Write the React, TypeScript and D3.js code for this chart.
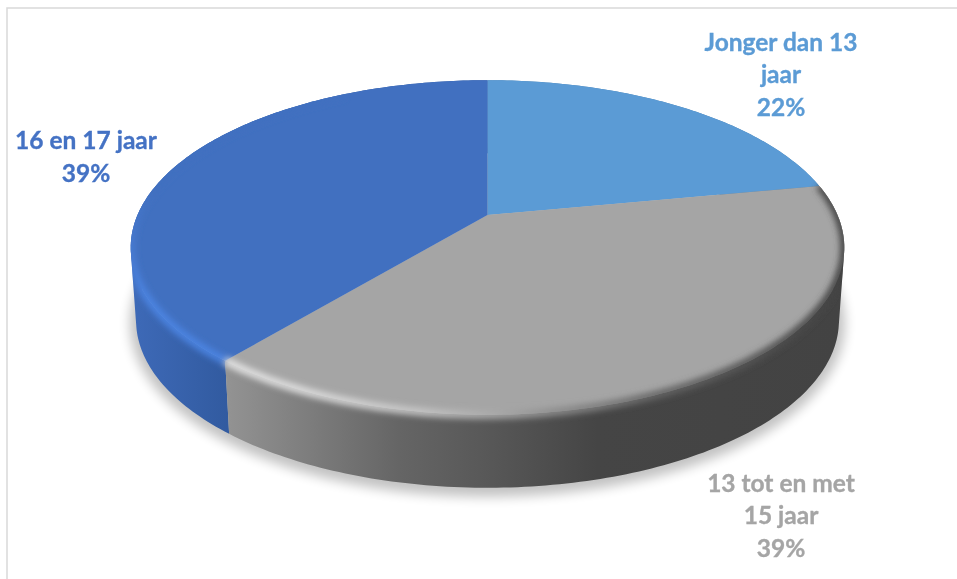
import React from "react";
import * as d3 from "d3";

const categories = ["Jonger dan 13 jaar", "13 tot en met 15 jaar", "16 en 17 jaar"];
const shares = [22, 39, 39];
const topColors = ["#5b9bd5", "#a5a5a5", "#4170c0"];
const labelColors = ["#5b9bd5", "#a5a5a5", "#4472c4"];
const labelLines = [
  ["Jonger dan 13", "jaar", "22%"],
  ["13 tot en met", "15 jaar", "39%"],
  ["16 en 17 jaar", "39%"],
];
const labelAnchors = [
  [781, 50.5],
  [781, 491.5],
  [86, 149],
];

const W = 957;
const H = 579;
const cx = 487.5;
const apexY = 215;
const radius = 350;
const tilt = 161;
const persp = 0.194;
const depth = 73;
const shrink = 0.985;

function project(a: number, level: number): [number, number] {
  const u = Math.sin(a);
  const v = -Math.cos(a);
  const d = 1 - persp * v;
  const s = 1 - (1 - shrink) * level;
  return [cx + (radius * u * s) / d, apexY + (tilt * v) / d + depth * level];
}

const arcAngles = (a0: number, a1: number) => {
  const n = Math.max(2, Math.ceil(Math.abs(a1 - a0) * 60));
  return d3.range(n + 1).map((i) => a0 + ((a1 - a0) * i) / n);
};
const line = d3.line();
const apex: [number, number] = [cx, apexY];

const slices = d3
  .pie<number>()
  .sort(null)
  .startAngle(0)
  .endAngle(2 * Math.PI)(shares);

const topPath = (s: { startAngle: number; endAngle: number }) =>
  line([apex, ...arcAngles(s.startAngle, s.endAngle).map((a) => project(a, 0))]) + "Z";

// The wall is a union of same-handed quads, so the part past the silhouette tangent stays filled.
const wallPath = (s: { startAngle: number; endAngle: number }) => {
  const as = arcAngles(s.startAngle, s.endAngle);
  return d3
    .pairs(as)
    .map(([a0, a1]) => {
      const quad = [project(a0, 0), project(a1, 0), project(a1, 1), project(a0, 1)] as [number, number][];
      const ordered = d3.polygonArea(quad) < 0 ? quad.slice().reverse() : quad;
      return line(ordered) + "Z";
    })
    .join("");
};
const edgePath = (a0: number, a1: number) => line(arcAngles(a0, a1).map((a) => project(a, 0))) || "";
const wholeBottom = line(arcAngles(0, 2 * Math.PI).map((a) => project(a, 1))) + "Z";

const grayStart = slices[1].startAngle;
const grayEnd = slices[1].endAngle;
const blueStart = slices[2].startAngle;
const blueEnd = slices[2].endAngle;

export default function App() {
  return (
    <svg
      width={W}
      height={H}
      viewBox={`0 0 ${W} ${H}`}
      style={{ position: "absolute", left: 0, top: 0, background: "#fff" }}
    >
      <defs>
        <filter id="shadow" x="-10%" y="-20%" width="120%" height="140%">
          <feGaussianBlur stdDeviation="6" />
        </filter>
        <filter id="rim" x="-10%" y="-20%" width="120%" height="140%">
          <feGaussianBlur stdDeviation="3" />
        </filter>
        <filter id="soft" x="-5%" y="-20%" width="110%" height="140%">
          <feGaussianBlur stdDeviation="0.4" />
        </filter>
        <linearGradient id="wallGray" gradientUnits="userSpaceOnUse" x1="226" x2="845" y1="0" y2="0">
          <stop offset="0" stopColor="#939393" />
          <stop offset="0.2" stopColor="#727272" />
          <stop offset="0.28" stopColor="#656565" />
          <stop offset="0.42" stopColor="#585858" />
          <stop offset="0.6" stopColor="#454545" />
          <stop offset="1" stopColor="#434343" />
        </linearGradient>
        <linearGradient id="wallBlue" gradientUnits="userSpaceOnUse" x1="130" x2="232" y1="0" y2="0">
          <stop offset="0" stopColor="#3e6ab8" />
          <stop offset="1" stopColor="#315a9f" />
        </linearGradient>
        <linearGradient id="rimGray" gradientUnits="userSpaceOnUse" x1="226" x2="845" y1="0" y2="0">
          <stop offset="0" stopColor="#e2e2e2" />
          <stop offset="0.12" stopColor="#dddddd" />
          <stop offset="0.31" stopColor="#c6c6c6" />
          <stop offset="0.44" stopColor="#a8a8a8" />
          <stop offset="0.54" stopColor="#8a8a8a" />
          <stop offset="0.69" stopColor="#666666" />
          <stop offset="1" stopColor="#424242" />
        </linearGradient>
        <linearGradient id="rimBlue" gradientUnits="userSpaceOnUse" x1="0" x2="0" y1="190" y2="300">
          <stop offset="0" stopColor="#4170c0" />
          <stop offset="1" stopColor="#4c84e2" />
        </linearGradient>
        <clipPath id="body">
          {slices.map((s, i) => (
            <path key={i} d={topPath(s)} />
          ))}
          {slices.map((s, i) => (
            <path key={i} d={wallPath(s)} />
          ))}
        </clipPath>
      </defs>

      <path d={`M7 579V8H${W}`} fill="none" stroke="#d9d9d9" strokeWidth={1.5} />

      <path
        d={wholeBottom}
        fill="#000"
        stroke="#000"
        strokeWidth={12}
        opacity={0.24}
        filter="url(#shadow)"
        transform="translate(0,3)"
      />

      <path d={wallPath(slices[0])} fill="#4a80b0" />
      <path d={wallPath(slices[2])} fill="url(#wallBlue)" />
      <path d={wallPath(slices[1])} fill="url(#wallGray)" />

      {slices.map((s, i) => (
        <path key={categories[i]} d={topPath(s)} fill={topColors[i]} />
      ))}

      <g clipPath="url(#body)">
        <path
          d={edgePath(blueStart, blueEnd - 0.5)}
          fill="none"
          stroke="url(#rimBlue)"
          strokeWidth={8}
          filter="url(#rim)"
        />
        <path
          d={edgePath(grayStart, grayEnd)}
          fill="none"
          stroke="url(#rimGray)"
          strokeWidth={8}
          filter="url(#rim)"
        />
      </g>

      {labelLines.map((lines, i) => (
        <text
          key={i}
          x={labelAnchors[i][0]}
          y={labelAnchors[i][1]}
          fill={labelColors[i]}
          stroke={labelColors[i]}
          strokeWidth={0.35}
          filter="url(#soft)"
          textAnchor="middle"
          fontFamily="Lato, 'Open Sans', sans-serif"
          fontWeight={700}
          fontSize={24.5}
        >
          {lines.map((t, j) => (
            <tspan key={j} x={labelAnchors[i][0]} dy={j === 0 ? 0 : 32.5}>
              {t}
            </tspan>
          ))}
        </text>
      ))}
    </svg>
  );
}
